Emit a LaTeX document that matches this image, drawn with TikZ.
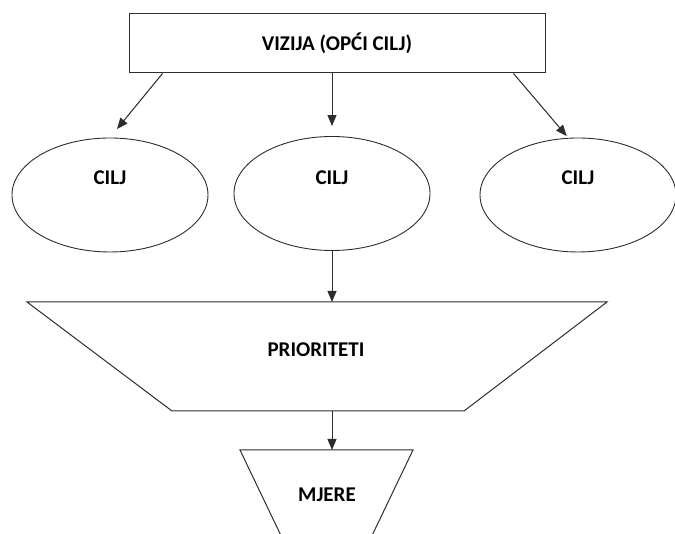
\documentclass[tikz,border=0pt]{standalone}
\usepackage{fontspec}
\setmainfont{Carlito}
\usetikzlibrary{arrows.meta,calc,shapes.geometric}
\definecolor{LineClr}{RGB}{45,45,45}

\tikzset{
  box/.style={draw=LineClr,line width=1pt,minimum width=416pt,minimum height=59pt,inner sep=0pt},
  goal/.style={draw=LineClr,line width=0.9pt,ellipse,minimum width=196pt,minimum height=114pt,inner sep=0pt},
  txt/.style={font=\fontsize{21}{25}\selectfont\bfseries},
  arr/.style={-{Triangle[length=11pt,width=9pt]},line width=1pt,draw=LineClr,fill=black},
  side/.style={draw=LineClr,line width=1pt},
}

\begin{document}
\begin{tikzpicture}[x=1pt,y=1pt]
\useasboundingbox (0,0) rectangle (675,534);
\clip (0,0) rectangle (675,534);

\node[box,txt] (vis) at (337,490.5) {VIZIJA (OPĆI CILJ)};

\node[goal,label={[txt,yshift=17pt]center:CILJ}] (c1) at (110,339) {};
\node[goal,label={[txt,yshift=16pt]center:CILJ}] (c2) at (332,340.5) {};
\node[goal,label={[txt,yshift=17pt]center:CILJ}] (c3) at (578,339) {};

\coordinate (pa) at (27,232);
\coordinate (pb) at (607,232);
\coordinate (pc) at (464,123);
\coordinate (pd) at (172,123);
\draw[side] (pa) -- (pb) -- (pc) -- (pd) -- cycle;
\node[txt] (pri) at (316,184) {PRIORITETI};

\coordinate (ma) at (240,84);
\coordinate (mb) at (413,84);
\coordinate (mc) at (368,-10);
\coordinate (md) at (285,-10);
\draw[side] (md) -- (ma) -- (mb) -- (mc);
\node[txt] (mje) at (327,39) {MJERE};

\draw[arr,shorten >=11pt] ([xshift=34pt]vis.south west) -- (c1.north);
\draw[arr,shorten >=10pt] (vis.south -| c2.north) -- (c2.north);
\draw[arr,shorten >=2pt] ([xshift=-32pt]vis.south east) -- ([xshift=-10pt]c3.north);

\draw[arr] (c2.south) -- (c2.south |- pa);
\draw[arr] (c2.south |- pd) -- (c2.south |- ma);

\end{tikzpicture}
\end{document}
